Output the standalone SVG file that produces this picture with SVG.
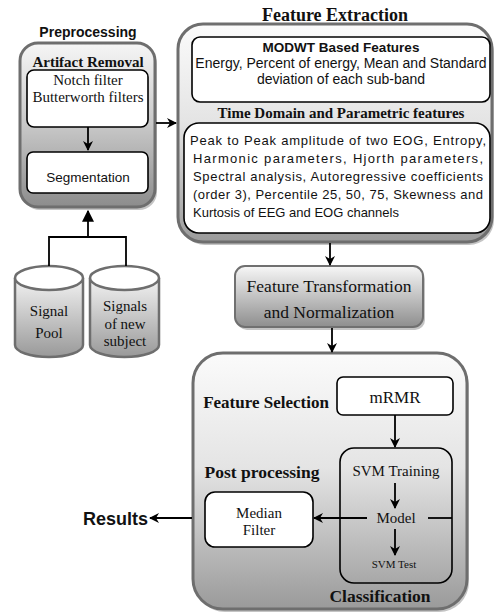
<svg xmlns="http://www.w3.org/2000/svg" width="494" height="613" viewBox="0 0 494 613">
<defs>
<linearGradient id="gOuter" x1="0" y1="0" x2="0" y2="1">
<stop offset="0" stop-color="#fbfbfb"/><stop offset="0.45" stop-color="#e4e4e4"/><stop offset="1" stop-color="#9a9a9a"/>
</linearGradient>
<linearGradient id="gPre" x1="0" y1="0" x2="0" y2="1">
<stop offset="0" stop-color="#f6f6f6"/><stop offset="0.5" stop-color="#c8c8c8"/><stop offset="1" stop-color="#8c8c8c"/>
</linearGradient>
<linearGradient id="gFT" x1="0" y1="0" x2="0" y2="1">
<stop offset="0" stop-color="#f7f7f7"/><stop offset="1" stop-color="#8e8e8e"/>
</linearGradient>
<linearGradient id="gCyl" x1="0" y1="0" x2="0" y2="1">
<stop offset="0" stop-color="#f2f2f2"/><stop offset="1" stop-color="#999999"/>
</linearGradient>
<marker id="arr" viewBox="0 0 10 10" refX="9" refY="5" markerWidth="10" markerHeight="10" markerUnits="userSpaceOnUse" orient="auto">
<path d="M0,0 L10,5 L0,10 L3,5 Z" fill="#000"/>
</marker>
<marker id="tri" viewBox="0 0 10 10" refX="9" refY="5" markerWidth="12" markerHeight="12" markerUnits="userSpaceOnUse" orient="auto">
<path d="M0,0 L10,5 L0,10 Z" fill="#000"/>
</marker>
</defs>
<style>
.outer{stroke:#6e6e6e;stroke-width:3}
.shadow{fill:#c4c4c4;stroke:none}
.inner{fill:#fff;stroke:#000;stroke-width:1.6}
.conn{stroke:#000;stroke-width:1.8;fill:none}
.tb{font-family:"Liberation Serif",serif;font-weight:bold;fill:#111}
.t{font-family:"Liberation Serif",serif;fill:#111}
.sb{font-family:"Liberation Sans",sans-serif;font-weight:bold;fill:#111}
.s{font-family:"Liberation Sans",sans-serif;fill:#111}
</style>

<g id="preprocessing">
<text class="sb" x="88" y="37" font-size="14" text-anchor="middle">Preprocessing</text>
<rect class="shadow" x="22" y="46" width="135" height="164" rx="18"/>
<rect class="outer" x="20" y="43" width="135" height="164" rx="18" fill="url(#gPre)"/>
<text class="tb" x="88" y="67" font-size="15" text-anchor="middle">Artifact Removal</text>
</g>
<g id="filters">
<rect class="inner" x="27" y="70" width="121" height="57" rx="7"/>
<text class="t" x="88" y="85" font-size="15" text-anchor="middle">Notch filter</text>
<text class="t" x="88" y="102" font-size="15" text-anchor="middle">Butterworth filters</text>
</g>
<g id="segmentation">
<rect class="inner" x="27" y="152" width="121" height="41" rx="6"/>
<text class="s" x="88" y="182" font-size="13.5" text-anchor="middle">Segmentation</text>
</g>

<g id="signal-pool">
<path d="M15,278 L15,345 A34,12 0 0 0 83,345 L83,278" fill="url(#gCyl)" stroke="#6e6e6e" stroke-width="2.5"/>
<ellipse cx="49" cy="278" rx="34" ry="12" fill="#fff" stroke="#6e6e6e" stroke-width="2.5"/>
<text class="t" x="49" y="316" font-size="15" text-anchor="middle">Signal</text>
<text class="t" x="49" y="338" font-size="15" text-anchor="middle">Pool</text>
</g>
<g id="signals-new">
<path d="M90,278 L90,345 A34.5,12 0 0 0 159,345 L159,278" fill="url(#gCyl)" stroke="#6e6e6e" stroke-width="2.5"/>
<ellipse cx="124.5" cy="278" rx="34.5" ry="12" fill="#fff" stroke="#6e6e6e" stroke-width="2.5"/>
<text class="t" x="125" y="311" font-size="15" text-anchor="middle">Signals</text>
<text class="t" x="125" y="329" font-size="15" text-anchor="middle">of new</text>
<text class="t" x="125" y="346" font-size="15" text-anchor="middle">subject</text>
</g>

<g id="feature-extraction">
<text class="tb" x="335" y="21" font-size="18" text-anchor="middle">Feature Extraction</text>
<rect class="shadow" x="180" y="27" width="314" height="218" rx="25"/>
<rect class="outer" x="178" y="24" width="314" height="218" rx="25" fill="url(#gOuter)"/>
<text class="tb" x="341" y="118" font-size="15" text-anchor="middle">Time Domain and Parametric features</text>
</g>
<g id="modwt">
<rect class="inner" x="192" y="37" width="298" height="65" rx="8"/>
<text class="sb" x="341" y="52" font-size="13.5" text-anchor="middle">MODWT Based Features</text>
<text class="s" x="341" y="68" font-size="14" text-anchor="middle">Energy, Percent of energy, Mean and Standard</text>
<text class="s" x="341" y="84" font-size="14" text-anchor="middle">deviation of each sub-band</text>
</g>
<g id="time-domain">
<rect class="inner" x="184" y="123" width="306" height="110" rx="15"/>
<text class="s" x="190" y="145" font-size="13" textLength="296" lengthAdjust="spacing">Peak to Peak amplitude of two EOG, Entropy,</text>
<text class="s" x="193" y="163" font-size="13" textLength="290" lengthAdjust="spacing">Harmonic parameters, Hjorth parameters,</text>
<text class="s" x="193" y="181" font-size="13" textLength="290" lengthAdjust="spacing">Spectral analysis, Autoregressive coefficients</text>
<text class="s" x="193" y="199" font-size="13" textLength="290" lengthAdjust="spacing">(order 3), Percentile 25, 50, 75, Skewness and</text>
<text class="s" x="193" y="217" font-size="13">Kurtosis of EEG and EOG channels</text>
</g>

<g id="feature-transformation">
<rect class="shadow" x="237" y="269" width="188" height="61" rx="10"/>
<rect x="235" y="266" width="188" height="61" rx="10" fill="url(#gFT)" stroke="#707070" stroke-width="2"/>
<text class="t" x="329" y="292" font-size="17.5" text-anchor="middle">Feature Transformation</text>
<text class="t" x="329" y="318" font-size="17.5" text-anchor="middle">and Normalization</text>
</g>

<g id="classification-box">
<rect class="shadow" x="195" y="356" width="274" height="256" rx="30"/>
<rect class="outer" x="193" y="353" width="274" height="256" rx="30" fill="url(#gOuter)"/>
<text class="tb" x="266" y="408" font-size="17" text-anchor="middle">Feature Selection</text>
<text class="tb" x="262" y="478" font-size="17.5" text-anchor="middle">Post processing</text>
<text class="tb" x="380" y="602" font-size="17.5" text-anchor="middle">Classification</text>
</g>
<g id="mrmr">
<rect class="inner" x="337" y="377" width="116" height="38" rx="6"/>
<text class="t" x="395" y="403" font-size="17" text-anchor="middle">mRMR</text>
</g>
<g id="svm">
<rect x="340" y="448" width="112" height="135" rx="14" fill="none" stroke="#000" stroke-width="1.6"/>
<text class="t" x="396" y="476" font-size="15" text-anchor="middle">SVM Training</text>
<text class="t" x="396" y="523" font-size="15" text-anchor="middle">Model</text>
<text class="t" x="394" y="568" font-size="11" text-anchor="middle">SVM Test</text>
</g>
<g id="median-filter">
<rect class="inner" x="205" y="492" width="108" height="55" rx="10"/>
<text class="t" x="259" y="518" font-size="15" text-anchor="middle">Median</text>
<text class="t" x="259" y="535" font-size="15" text-anchor="middle">Filter</text>
</g>
<g id="results">
<text class="sb" x="148" y="525" font-size="18" text-anchor="end">Results</text>
</g>

<g id="connectors">
<line class="conn" x1="88" y1="127" x2="88" y2="150" marker-end="url(#arr)"/>
<line class="conn" x1="156" y1="123" x2="176" y2="123" marker-end="url(#arr)"/>
<path class="conn" d="M49,266 V237 H126 V266"/>
<line class="conn" x1="88" y1="237" x2="88" y2="211" marker-end="url(#tri)"/>
<line class="conn" x1="330" y1="243" x2="330" y2="265" marker-end="url(#arr)"/>
<line class="conn" x1="332" y1="328" x2="332" y2="352" marker-end="url(#arr)"/>
<line class="conn" x1="395" y1="415" x2="395" y2="447" marker-end="url(#arr)"/>
<line class="conn" x1="395" y1="483" x2="395" y2="508" marker-end="url(#arr)"/>
<line class="conn" x1="395" y1="529" x2="395" y2="555" marker-end="url(#arr)"/>
<line class="conn" x1="367" y1="518" x2="314" y2="518" marker-end="url(#arr)"/>
<line class="conn" x1="428" y1="518" x2="452" y2="518"/>
<line class="conn" x1="192" y1="518" x2="150" y2="518" marker-end="url(#arr)"/>
</g>
</svg>
